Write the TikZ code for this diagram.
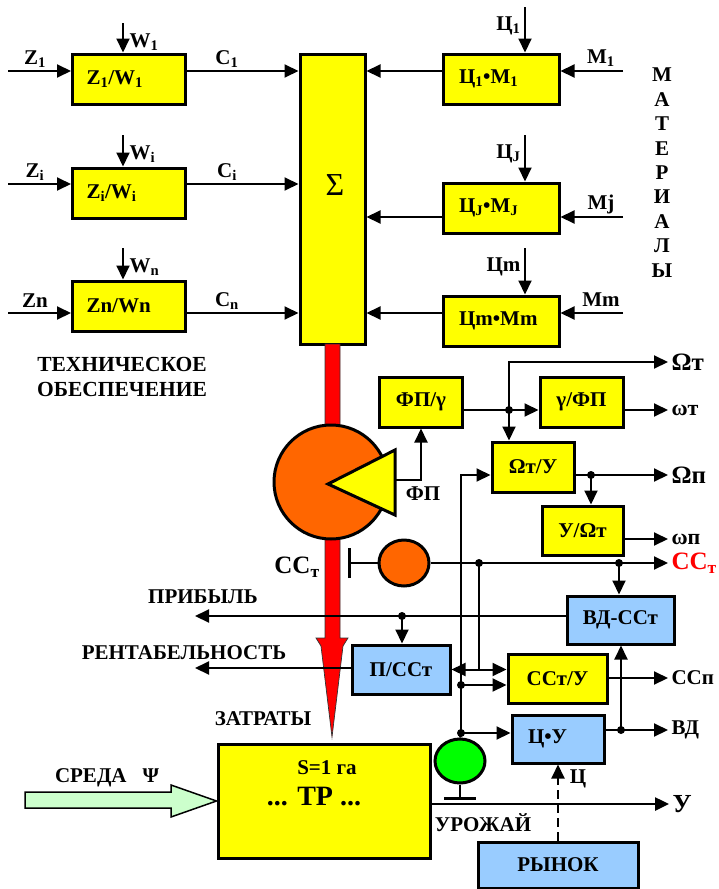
\documentclass[tikz,border=0pt]{standalone}
\usepackage{fontspec}
\setmainfont{Liberation Serif}
\usetikzlibrary{arrows.meta,shapes.geometric}
\definecolor{boxyellow}{rgb}{1,1,0}
\definecolor{boxblue}{rgb}{0.6,0.8,1}
\definecolor{pieorange}{rgb}{1,0.4,0}
\definecolor{sensgreen}{rgb}{0,1,0}
\definecolor{envgreen}{rgb}{0.8,1,0.8}
\newcommand{\sbs}[1]{\textsubscript{#1}}
\tikzset{
  ybox/.style={draw, line width=3pt, fill=boxyellow, inner sep=0pt,
    minimum width=83pt, minimum height=50pt},
  bbox/.style={ybox, fill=boxblue},
  % box whose text starts a fixed way in from the left edge
  leftbox/.style 2 args={align=left, inner xsep=#1, text width=#2},
  link/.style={line width=2pt},
  dot/.style={circle, fill=black, inner sep=0pt, minimum size=8pt},
  outl/.style={anchor=west},
  >={Triangle[length=14pt,width=13pt]},
}
\begin{document}
\begin{tikzpicture}[x=1pt,y=-1pt,font=\bfseries\fontsize{21}{23}\selectfont]
\useasboundingbox (0,0) rectangle (718,889);
% the summing block
\node[ybox, minimum width=65pt, minimum height=290pt] (sum) at (332.5,199) {};
\node[font=\mdseries\fontsize{32}{32}\selectfont] (sigma) at (335,185) {Σ};
% technical inputs Z/W, one row each
\foreach \row/\yc/\ya/\wy/\zl/\wl/\cl/\bl in {
    1/79/71/23/{Z\sbs{1}}/{W\sbs{1}}/{C\sbs{1}}/{Z\sbs{1}/W\sbs{1}},
    i/193/184/135/{Z\sbs{i}}/{W\sbs{i}}/{C\sbs{i}}/{Z\sbs{i}/W\sbs{i}},
    n/306/313/248/Zn/{W\sbs{n}}/{C\sbs{n}}/{Zn/Wn}} {
    \node[ybox, leftbox={14pt}{85pt}] (zw\row) at (129,\yc) {\bl};
    \coordinate (zin\row) at (8,\ya);
    \coordinate (win\row) at (123,\wy);
    \draw[link,->] (zin\row) -- (zin\row -| zw\row.west);
    \draw[link,->] (win\row) -- (win\row |- zw\row.north);
    \draw[link,->] (zw\row.east |- zin\row) -- (zin\row -| sum.west);
    \node (zl\row) at (35,\ya-12) {\zl};
    \node[anchor=west] (wl\row) at (126,\wy+19) {\wl};
    \node (cl\row) at (227,\ya-12) {\cl};
    % end of foreach statement
    }
% material inputs, price times amount
\foreach \row/\yc/\ya/\cy/\cl/\ml/\bl in {
    1/79/71/7/{Ц\sbs{1}}/{М\sbs{1}}/{Ц\sbs{1}•М\sbs{1}},
    j/208/217/135/{Ц\sbs{J}}/Мj/{Ц\sbs{J}•М\sbs{J}},
    m/321/313/248/Цm/Мm/{Цm•Мm}} {
    \node[ybox, leftbox={16pt}{84pt}] (cm\row) at (501,\yc) {\bl};
    \coordinate (min\row) at (623,\ya);
    \coordinate (cin\row) at (525,\cy);
    \draw[link,->] (min\row) -- (min\row -| cm\row.east);
    \draw[link,->] (cin\row) -- (cin\row |- cm\row.north);
    \draw[link,->] (cm\row.west |- min\row) -- (min\row -| sum.east);
    \node[anchor=east] (cl\row) at (524,\cy+19) {\cl};
    \node (ml\row) at (601,\ya-13) {\ml};
    }
\foreach \ch [count=\k] in {М,А,Т,Е,Р,И,А,Л,Ы}
    \node (mat\k) at ({662},{75+24.4*(\k-1)}) {\ch};
\node[align=center, font=\bfseries\fontsize{21.5}{25}\selectfont] (tech) at (122,377)
    {ТЕХНИЧЕСКОЕ\\ОБЕСПЕЧЕНИЕ};
% the red cost arrow, drawn under everything else
\draw[fill=red, draw=black!80, line width=0.7pt] (325,344) -- (325,638) -- (316,638)
    -- (321,646) -- (332,737) -- (343,646) -- (348,638) -- (340,638) -- (340,344) -- cycle;
% the pie with its yellow wedge
\node[circle, draw, line width=3pt, fill=pieorange, inner sep=0pt,
    minimum size=114pt] (pie) at (331,482) {};
\draw[line width=3pt, fill=boxyellow] (328,484) -- (395,450) -- (395,515) -- cycle;
\coordinate (fpout) at (395,480);
\node[ybox] (fpg) at (421,402) {ФП/γ};
\node[ybox] (gfp) at (581.5,402) {γ/ФП};
\node[ybox, minimum width=82pt] (ou) at (533,467) {Ωт/У};
\node[ybox, minimum width=81pt, minimum height=49pt] (uo) at (582.5,530.5) {У/Ωт};
\draw[link,->] (fpout) -| (fpg.south);
\node (fpl) at (423,494) {ФП};
\node[dot] (dg) at (509,410) {};
\coordinate (omt) at (668,362);
\coordinate (wtout) at (668,410);
\coordinate (opout) at (668,475);
\coordinate (wpout) at (668,539);
\draw[link] ([yshift=-8pt]fpg.east) -- (dg.center);
\draw[link,->] (dg.center) -- (dg -| gfp.west);
\draw[link,->] (dg.center) |- (omt);
\draw[link,->] (dg.center) -- (dg |- ou.north);
\draw[link,->] (gfp.east |- wtout) -- (wtout);
\node[dot] (du) at (591,475) {};
\draw[link,->] (ou.east |- opout) -- (opout);
\draw[link,->] (du.center) -- (du |- uo.north);
\draw[link,->] (uo.east |- wpout) -- (wpout);
\node[outl, font=\bfseries\fontsize{25}{25}\selectfont] (omtl) at (omt) {Ωт};
\node[outl, font=\bfseries\fontsize{22}{22}\selectfont] (wtl) at (wtout) {ωт};
\node[outl, font=\bfseries\fontsize{25}{25}\selectfont] (opl) at (opout) {Ωп};
\node[outl, font=\bfseries\fontsize{22}{22}\selectfont] (wpl) at (wpout) {ωп};
% fixed costs branch
\node[ellipse, draw, line width=3pt, fill=pieorange, inner sep=0pt,
    minimum width=50pt, minimum height=46pt] (sc) at (404,563) {};
\coordinate (cbar) at (348,563);
\coordinate (ccout) at (668,563);
\draw[link,-{Bar[width=30pt,line width=3pt]}] (sc.west) -- (cbar);
\draw[link,->] (sc.east) -- (ccout);
\node[font=\bfseries\fontsize{25}{25}\selectfont] (ccl) at (297,567) {СС\sbs{т}};
\node[outl, text=red, font=\bfseries\fontsize{25}{25}\selectfont] (ccr) at (ccout) {СС\sbs{т}};
\node[dot] (dv) at (479,563) {};
\node[dot] (dbd) at (619,563) {};
% economic blocks
\node[bbox, minimum width=107pt, minimum height=48pt] (bd) at (620.5,620) {ВД-ССт};
\node[bbox, minimum width=98pt, minimum height=49pt] (pc) at (401,669.5) {П/ССт};
\node[ybox, minimum width=99pt, minimum height=49pt] (su) at (557.5,678.5) {ССт/У};
\node[bbox, minimum height=48pt, leftbox={16pt}{60pt}] (cu) at (558,739) {Ц•У};
\coordinate (prof) at (195,616);
\coordinate (rent) at (195,668);
\coordinate (ssout) at (668,678);
\coordinate (vdout) at (668,730);
\node[dot] (dp) at (402,616) {};
\node[dot] (dc1) at (461,685) {};
\node[dot] (dc2) at (461,733) {};
\node[dot] (dvd) at (621,730) {};
\draw[link,->] (dbd.center) -- (dbd |- bd.north);
\draw[link,->] (bd.west |- prof) -- (prof);
\draw[link,->] (dp.center) -- (dp |- pc.north);
\draw[link,->] (pc.west |- rent) -- (rent);
\draw[link] (dv.center) -- (dv |- pc.east);
\draw[link,<->] (pc.east) -- (pc.east -| su.west);
\draw[link,->] (dc2.center) |- (ou.west |- opout);
\draw[link,->] (dc1.center) -- (dc1 -| su.west);
\draw[link,->] (dc2.center) -- (dc2 -| cu.west);
\draw[link,->] (su.east |- ssout) -- (ssout);
\draw[link,->] (cu.east |- vdout) -- (vdout);
\draw[link,->] (dvd.center) -- (dvd |- bd.south);
\node[outl] (ssl) at (ssout) {ССп};
\node[outl] (vdl) at (vdout) {ВД};
\node (profl) at (203,597) {ПРИБЫЛЬ};
\node (rentl) at (184,653) {РЕНТАБЕЛЬНОСТЬ};
\node (costl) at (263,719) {ЗАТРАТЫ};
% the yield sensor
\node[ellipse, draw, line width=3pt, fill=sensgreen, inner sep=0pt,
    minimum width=50pt, minimum height=44pt] (gc) at (460,761) {};
\coordinate (gnd) at (460,798);
\draw[link] (dc2.center) -- (gc.north);
\draw[link] (gc.south) -- (gnd);
\draw[line width=3pt] ([xshift=-16pt]gnd) -- ([xshift=16pt]gnd);
% the field itself
\node[ybox, minimum width=212pt, minimum height=114pt] (tr) at (324,801) {};
\node (area) at (327,768) {S=1 га};
\node[font=\bfseries\fontsize{28}{28}\selectfont] (trl) at (314,797) {... ТР ...};
\coordinate (yout) at (669,804);
\draw[line width=2.5pt,->] (tr.east |- yout) -- (yout);
\node[outl, font=\bfseries\fontsize{26}{26}\selectfont] (yl) at (yout) {У};
\node (harv) at (483,823) {УРОЖАЙ};
\draw[line width=1.5pt, fill=envgreen] (25,792) -- (171,792) -- (171,785) -- (tr.west)
    -- (171,817) -- (171,808) -- (25,808) -- cycle;
\node (envl) at (107,778) {СРЕДА\hspace{16pt}Ψ};
% market
\node[bbox, minimum width=160pt, minimum height=46pt] (mk) at (558,865) {РЫНОК};
\draw[link,dash pattern=on 9pt off 5pt,->] (mk.north) -- (mk.north |- cu.south);
\node (pricel) at (578,779) {Ц};
\end{tikzpicture}
\end{document}
